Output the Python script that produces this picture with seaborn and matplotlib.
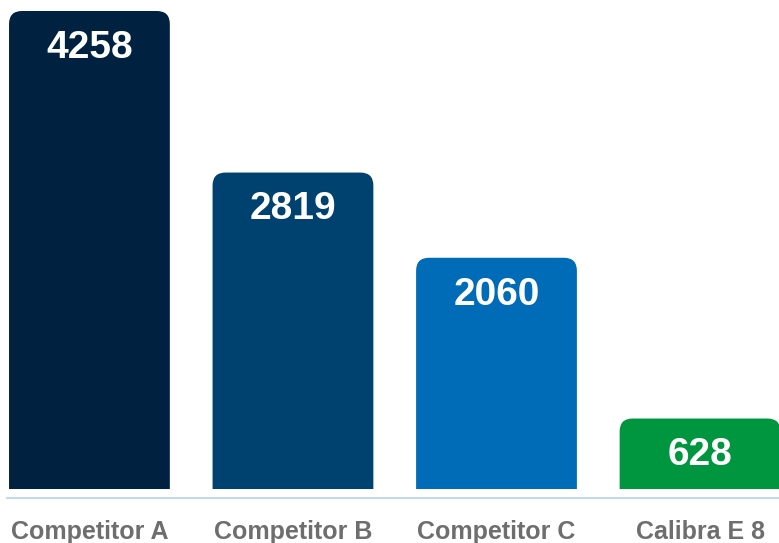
import matplotlib
matplotlib.use("Agg")
import matplotlib.pyplot as plt
import seaborn as sns
import pandas as pd
from matplotlib.patches import PathPatch
from matplotlib.path import Path

# podaci
categories = ["Competitor A", "Competitor B", "Competitor C", "Calibra E 8"]
values = [4258, 2819, 2060, 628]
colors = ["#002140", "#00426F", "#006BB6", "#00963F"]

df = pd.DataFrame({"name": categories, "value": values})

sns.set_style("white")
plt.rcParams["font.family"] = ["Liberation Sans", "DejaVu Sans"]

W, H = 779, 543
fig = plt.figure(figsize=(W / 100, H / 100), dpi=100)
ax = fig.add_axes([7 / W, (H - 498) / H, 1 - 7 / W, 498 / H])

sns.barplot(data=df, x="name", y="value", hue="name", palette=colors,
            width=0.79, legend=False, ax=ax)

ax.set_xlim(-0.405, 3.388)
ax.set_ylim(-80, 4356)

# zaobljeni gornji kutovi
px_x = 203.5          # piksela po kategoriji
px_y = 478 / 4258     # piksela po jedinici
r = 13
rx = r / px_x
ry = r / px_y
for p, col in zip(list(ax.patches), colors):
    x0, w, h = p.get_x(), p.get_width(), p.get_height()
    x1 = x0 + w
    p.set_visible(False)
    verts = [(x0, 0), (x0, h - ry), (x0, h), (x0 + rx, h), (x1 - rx, h),
             (x1, h), (x1, h - ry), (x1, 0), (x0, 0)]
    codes = [Path.MOVETO, Path.LINETO, Path.CURVE3, Path.CURVE3, Path.LINETO,
             Path.CURVE3, Path.CURVE3, Path.LINETO, Path.CLOSEPOLY]
    ax.add_patch(PathPatch(Path(verts, codes), fc=col, ec="none"))
    ax.annotate(f"{int(h)}", (x0 + w / 2, h), xytext=(0, -26.5),
                textcoords="offset points", ha="center", va="center",
                color="white", fontsize=28, fontweight="bold")

sns.despine(ax=ax, left=True, top=True, right=True)
ax.spines["bottom"].set_color("#C5D8EE")
ax.spines["bottom"].set_linewidth(1.5)
ax.set_yticks([])
ax.set_xlabel("")
ax.set_ylabel("")
ax.tick_params(axis="x", length=0, pad=15.5, labelsize=18, labelcolor="#6E6E6E")
for t in ax.get_xticklabels():
    t.set_fontweight("bold")

fig.savefig("out.png", dpi=100)
